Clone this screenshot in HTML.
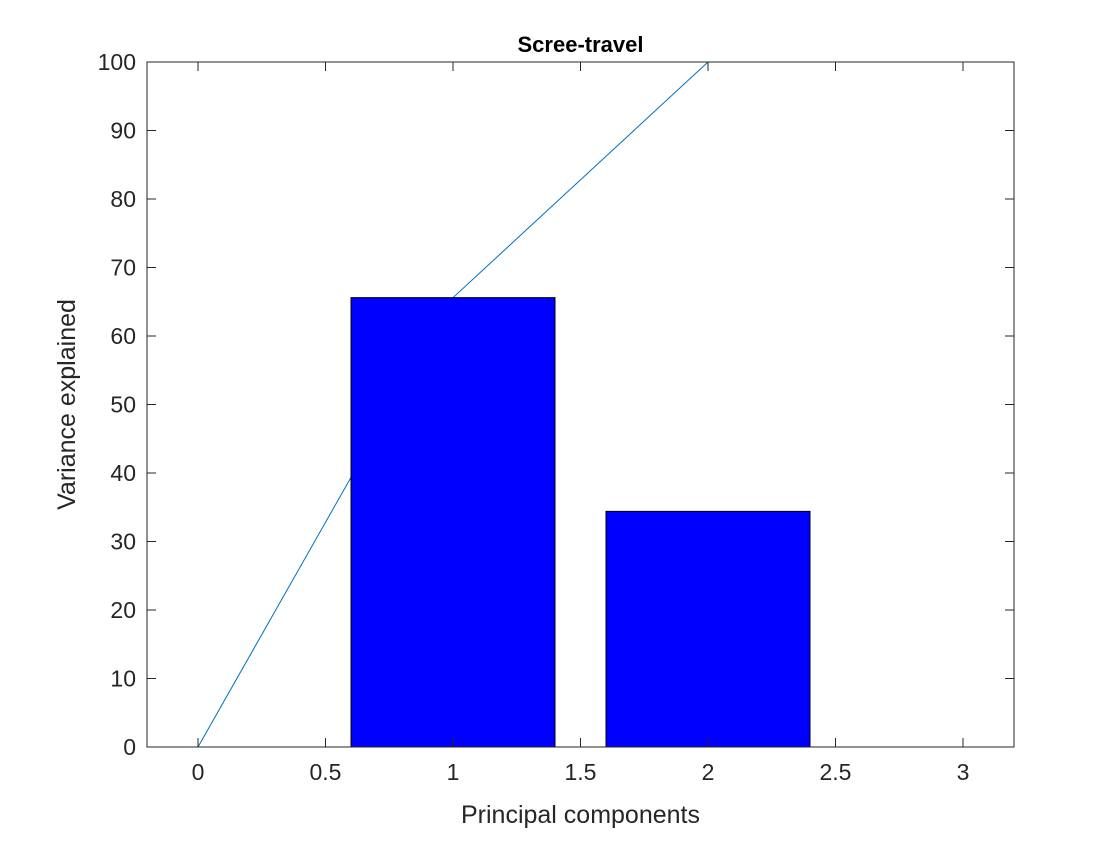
<!DOCTYPE html>
<html><head><meta charset="utf-8"><style>
body{margin:0;background:#fff;}
svg text{font-family:"Liberation Sans",Arial,sans-serif;fill:#262626;}
</style></head><body>
<svg id="chart" width="1120" height="840" xmlns="http://www.w3.org/2000/svg"></svg>
<script>
const categories=[1,2];
const variance=[65.6,34.4];
const cumulativeX=[0,1,2];
const cumulative=[0,65.6,100];
const xTicks=[0,0.5,1,1.5,2,2.5,3];
const xTickLabels=["0","0.5","1","1.5","2","2.5","3"];
const yTicks=[0,10,20,30,40,50,60,70,80,90,100];

const L=147,R=1014,T=62,B=747,xmin=-0.2,xmax=3.2,ymin=0,ymax=100;
const sx=v=>L+(v-xmin)/(xmax-xmin)*(R-L);
const sy=v=>B-(v-ymin)/(ymax-ymin)*(B-T);
const svg=document.getElementById('chart');
const NS='http://www.w3.org/2000/svg';
function mk(tag,attrs,parent){const e=document.createElementNS(NS,tag);for(const k in attrs)e.setAttribute(k,attrs[k]);(parent||svg).appendChild(e);return e;}

const bg=mk('rect',{x:L,y:T,width:R-L,height:B-T,fill:'#fff'});



const pts=cumulativeX.map((x,i)=>sx(x)+','+sy(cumulative[i])).join(' ');
const ln=mk('polyline',{points:pts,fill:'none',stroke:'#0072bd','stroke-width':1});



categories.forEach((c,i)=>{
  const b=mk('rect',{x:sx(c-0.4),y:sy(variance[i]),width:sx(c+0.4)-sx(c-0.4),height:sy(0)-sy(variance[i]),fill:'#0000ff',stroke:'#000','stroke-width':1});
  
  
});

const frame=mk('rect',{x:L,y:T,width:R-L,height:B-T,fill:'none',stroke:'#262626','stroke-width':1});



xTicks.forEach((t,i)=>{
  const x=sx(t);
  mk('line',{x1:x,y1:B,x2:x,y2:B-9,stroke:'#262626'});
  mk('line',{x1:x,y1:T,x2:x,y2:T+9,stroke:'#262626'});
  const tx=mk('text',{x:x,y:B+33,'text-anchor':'middle','font-size':23});
  tx.textContent=xTickLabels[i];
  
  
});
yTicks.forEach(t=>{
  const y=sy(t);
  mk('line',{x1:L,y1:y,x2:L+9,y2:y,stroke:'#262626'});
  mk('line',{x1:R,y1:y,x2:R-9,y2:y,stroke:'#262626'});
  const tx=mk('text',{x:L-11,y:y+8,'text-anchor':'end','font-size':23});
  tx.textContent=t;
  
  
});

const title=mk('text',{x:(L+R)/2,y:52,'text-anchor':'middle','font-size':22,'font-weight':'bold',style:'fill:#000'});
title.textContent='Scree-travel';



const xl=mk('text',{x:(L+R)/2,y:823,'text-anchor':'middle','font-size':25});
xl.textContent='Principal components';



const yl=mk('text',{x:0,y:0,'text-anchor':'middle','font-size':25,transform:'translate(75,'+((T+B)/2)+') rotate(-90)'});
yl.textContent='Variance explained';


</script>
</body></html>
